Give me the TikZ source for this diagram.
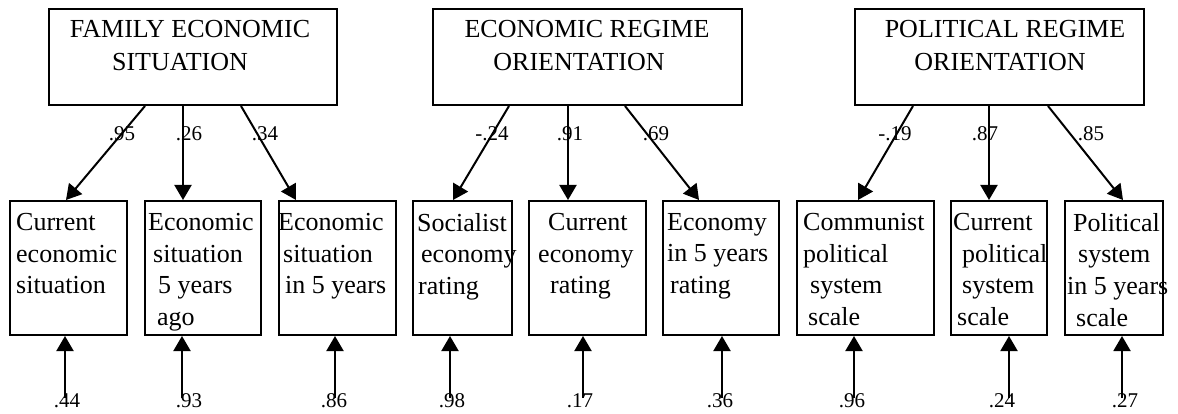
\documentclass[tikz,border=0pt]{standalone}
\usepackage{fontspec}
\setmainfont{Liberation Serif}
\usetikzlibrary{arrows.meta}
\begin{document}
\begin{tikzpicture}[x=1pt,y=-1pt,
  box/.style={draw, line width=2pt, inner sep=0pt, anchor=north west},
  arr/.style={-{Triangle[length=15pt,width=17pt]}, line width=2pt},
  coef/.style={font=\fontsize{21}{21}\selectfont, inner sep=0pt, anchor=base},
  ttxt/.style={font=\fontsize{26}{26}\selectfont, inner sep=0pt, anchor=base},
  btxt/.style={font=\fontsize{26}{31.7}\selectfont, align=left, anchor=north west, inner sep=0pt},
]
\useasboundingbox (0,0) rectangle (1178,414);

% top boxes
\node[box, minimum width=288pt, minimum height=96pt] (F) at (48,8) {};
\node[box, minimum width=309pt, minimum height=96pt] (E) at (432,8) {};
\node[box, minimum width=289pt, minimum height=96pt] (P) at (854,8) {};
\node[ttxt] (F1) at (190,38) {FAMILY ECONOMIC};
\node[ttxt] (F2) at (180,71) {SITUATION};
\node[ttxt] (E1) at (587,38) {ECONOMIC REGIME};
\node[ttxt] (E2) at (579,71) {ORIENTATION};
\node[ttxt] (P1) at (1005,38) {POLITICAL REGIME};
\node[ttxt] (P2) at (1000,71) {ORIENTATION};

% bottom boxes
\node[box, minimum width=117pt, minimum height=134pt] (b1) at (9,200) {};
\node[box, minimum width=116pt, minimum height=134pt] (b2) at (144,200) {};
\node[box, minimum width=117pt, minimum height=134pt] (b3) at (278,200) {};
\node[box, minimum width=99pt, minimum height=134pt] (b4) at (412,200) {};
\node[box, minimum width=117pt, minimum height=134pt] (b5) at (528,200) {};
\node[box, minimum width=116pt, minimum height=134pt] (b6) at (662,200) {};
\node[box, minimum width=137pt, minimum height=134pt] (b7) at (796,200) {};
\node[box, minimum width=96pt, minimum height=134pt] (b8) at (950,200) {};
\node[box, minimum width=98pt, minimum height=134pt] (b9) at (1064,200) {};

% bottom box texts
\node[btxt] (t1) at (16,213) {Current\\economic\\situation};
\node[btxt] (t2) at (148,213) {Economic\\\hspace{5pt}situation\\\hspace{10pt}5 years\\\hspace{9pt}ago};
\node[btxt] (t3) at (278,213) {Economic\\\hspace{5pt}situation\\\hspace{7pt}in 5 years};
\node[btxt] (t4) at (417,213) {Socialist\\\hspace{4pt}economy\\\hspace{1pt}rating};
\node[btxt] (t5) at (538,213) {\hspace{10pt}Current\\economy\\\hspace{12pt}rating};
\node[btxt] (t6) at (667,213) {Economy\\in 5 years\\\hspace{3pt}rating};
\node[btxt] (t7) at (803,213) {Communist\\political\\\hspace{7pt}system\\\hspace{5pt}scale};
\node[btxt] (t8) at (953,213) {Current\\\hspace{9pt}political\\\hspace{9pt}system\\\hspace{4pt}scale};
\node[btxt] (t9) at (1067,213) {\hspace{6pt}Political\\\hspace{11pt}system\\in 5 years\\\hspace{9pt}scale};

% loading arrows
\draw[arr] ([xshift=-48pt]F.south) -- ([xshift=-2.5pt]b1.north);
\draw[arr] ([xshift=-10pt]F.south) -- ([xshift=-20pt]b2.north);
\draw[arr] ([xshift=48pt]F.south) -- ([xshift=-41.5pt]b3.north);
\draw[arr] ([xshift=-78.5pt]E.south) -- ([xshift=-9.5pt]b4.north);
\draw[arr] ([xshift=-19.5pt]E.south) -- ([xshift=-19.5pt]b5.north);
\draw[arr] ([xshift=37.5pt]E.south) -- ([xshift=-22pt]b6.north);
\draw[arr] ([xshift=-86.5pt]P.south) -- ([xshift=-7.5pt]b7.north);
\draw[arr] ([xshift=-10.5pt]P.south) -- ([xshift=-10pt]b8.north);
\draw[arr] ([xshift=48.5pt]P.south) -- ([xshift=9pt]b9.north);

% loading labels
\node[coef] (l1) at (122,141) {.95};
\node[coef] (l2) at (189,141) {.26};
\node[coef] (l3) at (265,141) {.34};
\node[coef] (l4) at (492,141) {-.24};
\node[coef] (l5) at (570,141) {.91};
\node[coef] (l6) at (656,141) {.69};
\node[coef] (l7) at (895,141) {-.19};
\node[coef] (l8) at (985,141) {.87};
\node[coef] (l9) at (1091,141) {.85};

% error arrows
\coordinate (e1) at (65,398);
\coordinate (e2) at (182,398);
\coordinate (e3) at (335,398);
\coordinate (e4) at (450,398);
\coordinate (e5) at (583,398);
\coordinate (e6) at (722,398);
\coordinate (e7) at (854,398);
\coordinate (e8) at (1009,398);
\coordinate (e9) at (1122,398);
\draw[arr] (e1) -- (e1 |- b1.south);
\draw[arr] (e2) -- (e2 |- b2.south);
\draw[arr] (e3) -- (e3 |- b3.south);
\draw[arr] (e4) -- (e4 |- b4.south);
\draw[arr] (e5) -- (e5 |- b5.south);
\draw[arr] (e6) -- (e6 |- b6.south);
\draw[arr] (e7) -- (e7 |- b7.south);
\draw[arr] (e8) -- (e8 |- b8.south);
\draw[arr] (e9) -- (e9 |- b9.south);

\node[coef] (r1) at (67,407) {.44};
\node[coef] (r2) at (189,407) {.93};
\node[coef] (r3) at (334,407) {.86};
\node[coef] (r4) at (452,407) {.98};
\node[coef] (r5) at (580,407) {.17};
\node[coef] (r6) at (720,407) {.36};
\node[coef] (r7) at (852,407) {.96};
\node[coef] (r8) at (1002,407) {.24};
\node[coef] (r9) at (1125,407) {.27};
\end{tikzpicture}
\end{document}
